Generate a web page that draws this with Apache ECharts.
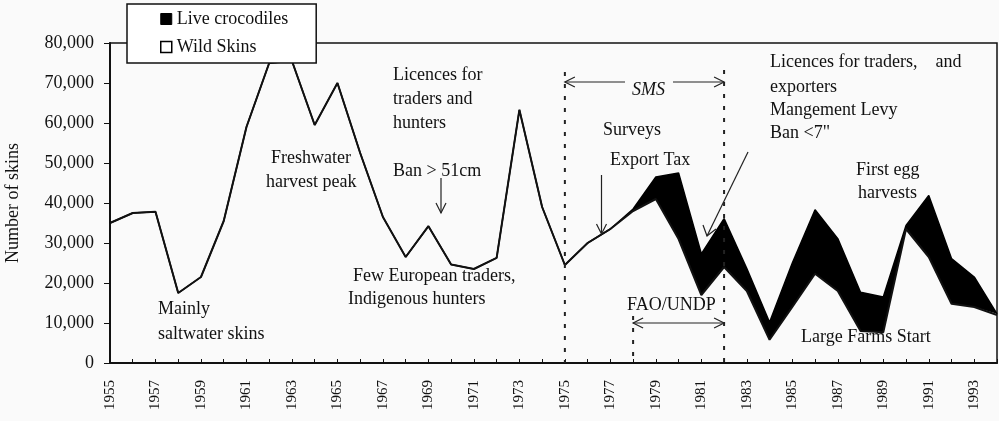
<!DOCTYPE html>
<html>
<head>
<meta charset="utf-8">
<script src="https://cdn.jsdelivr.net/npm/echarts@6/dist/echarts.min.js"></script>
<style>
  html, body { margin: 0; padding: 0; background: #fafafa; }
  #chart { width: 999px; height: 421px; }
</style>
</head>
<body>
<div id="chart"></div>
<script>
// years on the x axis
const years = Array.from({length: 40}, (_, i) => String(1955 + i));

// wild skins harvested (lower line)
const wildSkins = [
    35000, 37500, 37800, 17500, 21500, 35500, 59000, 75000, 75500, 59500,
    70000, 52500, 36500, 26500, 34200, 24600, 23500, 26300, 63300, 39000,
    24500, 30000, 33500, 38000, 41000, 31000, 17000, 24000, 18000, 5800,
    14000, 22300, 18000, 8000, 7700, 33500, 26500, 14800, 14000, 12000
];

// live crocodiles, stacked on top of the wild skins (black band)
const liveCrocodiles = [
    0, 0, 0, 0, 0, 0, 0, 0, 0, 0,
    0, 0, 0, 0, 0, 0, 0, 0, 0, 0,
    0, 0, 0, 500, 5500, 16500, 10300, 12100, 5600, 4400,
    11000, 16000, 13100, 9700, 8800, 900, 15400, 11300, 7500, 300
];

const yTicks = [0, 10000, 20000, 30000, 40000, 50000, 60000, 70000, 80000];

const serif = 'Liberation Serif';
const ink = '#111';

const chart = echarts.init(document.getElementById('chart'));

const option = {
    backgroundColor: '#fafafa',
    animation: false,
    grid: {
        left: 110, right: 2, top: 43, bottom: 58,
        outerBoundsMode: 'none',
        show: true, borderColor: '#111', borderWidth: 1.5,
    },
    legend: {
        orient: 'vertical',
        left: 127, top: 4,
        backgroundColor: '#fff',
        borderColor: '#111', borderWidth: 1.5,
        padding: [6, 28, 7, 33],
        itemGap: 10, itemWidth: 11, itemHeight: 11,
        textStyle: {fontFamily: serif, fontSize: 18, color: ink},
        data: [
            {name: 'Live crocodiles', icon: 'rect', itemStyle: {color: '#000', borderColor: '#000', borderWidth: 1}},
            {name: 'Wild Skins', icon: 'rect', itemStyle: {color: '#fff', borderColor: '#000', borderWidth: 1.5}},
        ],
    },
    xAxis: {
        type: 'category',
        data: years,
        boundaryGap: false,
        axisLine: {lineStyle: {color: '#111', width: 2}},
        axisTick: {inside: true, length: 4, interval: 0, lineStyle: {color: '#111'}},
        axisLabel: {
            interval: 1, rotate: 90, margin: 17,
            fontFamily: serif, fontSize: 15, color: ink,
        },
        splitLine: {show: false},
    },
    yAxis: {
        type: 'value',
        min: yTicks[0], max: yTicks[yTicks.length - 1], interval: 10000,
        name: 'Number of skins',
        nameLocation: 'middle', nameGap: 88,
        nameTextStyle: {fontFamily: serif, fontSize: 18, color: ink},
        axisLine: {show: true, lineStyle: {color: '#111', width: 2}},
        axisTick: {show: true, length: 6, lineStyle: {color: '#111'}},
        axisLabel: {
            fontFamily: serif, fontSize: 18, color: ink, margin: 16,
            formatter: v => v.toLocaleString('en-US'),
        },
        splitLine: {show: false},
    },
    series: [
        {
            name: 'Wild Skins', type: 'line', stack: 'total',
            data: wildSkins, symbol: 'none',
            lineStyle: {color: '#111', width: 2},
            itemStyle: {color: '#fff', borderColor: '#000'},
            z: 3,
        },
        {
            name: 'Live crocodiles', type: 'line', stack: 'total',
            data: liveCrocodiles, symbol: 'none',
            lineStyle: {color: '#000', width: 1.5},
            areaStyle: {color: '#000', opacity: 1},
            itemStyle: {color: '#000'},
            z: 2,
        },
    ],
};
chart.setOption(option);

// annotations
const xOf = yr => chart.convertToPixel({xAxisIndex: 0}, yr - 1955);
const base = chart.convertToPixel({yAxisIndex: 0}, 0);

const txt = (s, x, y, extra) => ({
    type: 'text', x, y, z: 10,
    style: Object.assign({text: s, fill: ink, font: '18px "Liberation Serif"', verticalAlign: 'middle'}, extra || {}),
});
const seg = (pts, w, dash) => ({
    type: 'polyline', z: 10,
    shape: {points: pts},
    style: {stroke: '#222', lineWidth: w || 1.2, fill: null, lineDash: dash || null},
});
const headDown = (x, y) => seg([[x - 5, y - 10], [x, y], [x + 5, y - 10]]);
const headLeft = (x, y) => seg([[x + 10, y - 5], [x, y], [x + 10, y + 5]]);
const headRight = (x, y) => seg([[x - 10, y - 5], [x, y], [x - 10, y + 5]]);

const x75 = xOf(1975), x78 = xOf(1978), x82 = xOf(1982);

chart.setOption({
    graphic: [
        txt('Mainly', 158, 309),
        txt('saltwater skins', 158, 334),
        txt('Freshwater', 271, 158),
        txt('harvest peak', 266, 182),
        txt('Licences for', 393, 75),
        txt('traders and', 393, 99),
        txt('hunters', 393, 123),
        txt('Ban > 51cm', 393, 171),
        seg([[441, 178], [441, 213]]), headDown(441, 213),
        txt('Few European traders,', 353, 276),
        txt('Indigenous hunters', 348, 299),

        seg([[x75, 72], [x75, base]], 2, [4, 8]),
        seg([[x82, 70], [x82, base]], 2, [4, 8]),
        seg([[x78, 316], [x78, base]], 2, [4, 8]),

        seg([[x75, 82], [625, 82]]), headLeft(x75, 82),
        txt('SMS', 632, 90, {font: 'italic 18px "Liberation Serif"'}),
        seg([[673, 82], [x82, 82]]), headRight(x82, 82),
        txt('Surveys', 603, 130),
        txt('Export Tax', 610, 160),
        seg([[601.5, 175], [601.5, 234]]), headDown(601.5, 234),

        txt('Licences for traders,    and', 770, 62),
        txt('exporters', 770, 87),
        txt('Mangement Levy', 770, 110),
        txt('Ban <7"', 770, 133),
        seg([[748, 152], [707, 236]]),
        seg([[703, 225], [707, 236], [716, 229]]),

        txt('First egg', 856, 170),
        txt('harvests', 858, 193),
        txt('FAO/UNDP', 627, 305),
        seg([[x78, 323], [x82, 323]]), headLeft(x78, 323), headRight(x82, 323),
        txt('Large Farms Start', 801, 337),
    ],
});
</script>
</body>
</html>
